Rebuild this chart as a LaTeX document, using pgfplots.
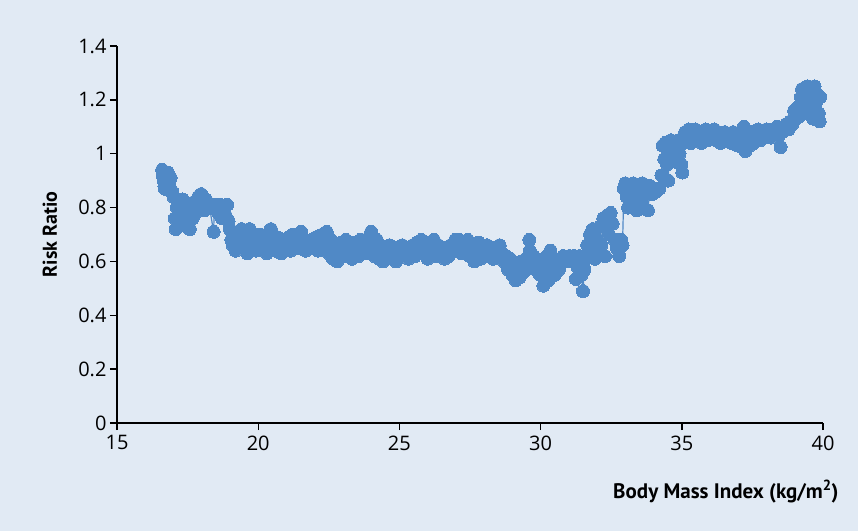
\documentclass[border=0pt]{standalone}
\usepackage{pgfplots}
\pgfplotsset{compat=1.18}
\usepackage{fontspec}
\setmainfont{PT Sans}
\newfontfamily\tickff{Open Sans}
\definecolor{bgc}{RGB}{225,234,244}
\definecolor{dotc}{RGB}{80,137,198}
\newcommand{\tickfont}{\tickff\fontsize{20}{24}\selectfont}
\pgfplotstableread{
x y
16.60 0.94
16.62 0.92
16.65 0.90
16.68 0.88
16.70 0.87
16.75 0.91
16.80 0.93
16.85 0.89
16.90 0.91
16.95 0.86
17.00 0.84
17.05 0.76
17.08 0.72
17.12 0.80
17.18 0.74
17.22 0.82
17.28 0.78
17.32 0.83
17.38 0.75
17.42 0.79
17.48 0.73
17.52 0.77
17.58 0.72
17.62 0.80
17.68 0.76
17.72 0.82
17.78 0.78
17.82 0.81
17.88 0.84
17.92 0.80
17.98 0.85
18.05 0.82
18.10 0.79
18.15 0.83
18.20 0.81
18.28 0.80
18.42 0.71
18.45 0.80
18.52 0.81
18.58 0.78
18.65 0.81
18.72 0.76
18.78 0.80
18.85 0.77
18.90 0.81
18.95 0.75
19.00 0.72
19.05 0.68
19.10 0.66
19.15 0.70
19.20 0.64
19.28 0.68
19.35 0.66
19.42 0.72
19.50 0.65
19.55 0.69
19.62 0.63
19.70 0.72
19.78 0.66
19.85 0.68
19.92 0.64
20.00 0.67
20.08 0.70
20.15 0.65
20.22 0.68
20.30 0.63
20.38 0.66
20.45 0.72
20.52 0.67
20.60 0.64
20.68 0.69
20.75 0.66
20.82 0.63
20.90 0.67
21.00 0.65
21.08 0.69
21.15 0.64
21.22 0.70
21.30 0.67
21.38 0.65
21.45 0.69
21.52 0.71
21.60 0.66
21.68 0.64
21.75 0.67
21.82 0.65
21.90 0.68
21.98 0.66
22.05 0.69
22.12 0.64
22.20 0.67
22.28 0.70
22.35 0.66
22.42 0.71
22.50 0.63
22.58 0.68
22.65 0.61
22.72 0.66
22.80 0.60
22.88 0.64
22.95 0.67
23.02 0.62
23.10 0.68
23.18 0.64
23.25 0.66
23.32 0.61
23.40 0.67
23.48 0.65
23.55 0.62
23.62 0.68
23.70 0.64
23.78 0.66
23.85 0.63
23.92 0.69
24.00 0.71
24.05 0.66
24.12 0.62
24.20 0.68
24.28 0.61
24.35 0.65
24.42 0.60
24.50 0.64
24.58 0.62
24.65 0.66
24.72 0.61
24.80 0.63
24.88 0.60
24.95 0.65
25.02 0.62
25.10 0.66
25.18 0.63
25.25 0.65
25.32 0.61
25.40 0.64
25.48 0.66
25.55 0.62
25.62 0.67
25.70 0.65
25.78 0.68
25.85 0.63
25.92 0.66
26.00 0.61
26.08 0.67
26.15 0.64
26.22 0.68
26.30 0.62
26.38 0.66
26.45 0.63
26.52 0.65
26.60 0.61
26.68 0.64
26.75 0.62
26.82 0.66
26.90 0.64
26.98 0.68
27.05 0.65
27.12 0.68
27.20 0.63
27.28 0.67
27.35 0.64
27.42 0.68
27.50 0.62
27.58 0.66
27.65 0.60
27.72 0.64
27.80 0.67
27.88 0.61
27.95 0.65
28.02 0.62
28.10 0.66
28.18 0.63
28.25 0.65
28.32 0.61
28.40 0.64
28.48 0.62
28.55 0.66
28.62 0.63
28.70 0.60
28.78 0.62
28.85 0.57
28.92 0.61
29.00 0.55
29.05 0.59
29.12 0.53
29.18 0.57
29.25 0.54
29.32 0.60
29.40 0.56
29.48 0.61
29.55 0.58
29.60 0.68
29.62 0.64
29.68 0.59
29.75 0.62
29.82 0.57
29.90 0.60
29.98 0.55
30.05 0.58
30.10 0.51
30.15 0.56
30.22 0.62
30.28 0.53
30.35 0.64
30.42 0.58
30.50 0.55
30.58 0.60
30.65 0.57
30.72 0.61
30.80 0.62
30.88 0.60
30.95 0.61
31.02 0.62
31.10 0.60
31.18 0.62
31.25 0.535
31.30 0.58
31.38 0.62
31.45 0.55
31.50 0.49
31.55 0.57
31.60 0.61
31.65 0.66
31.70 0.62
31.75 0.70
31.80 0.64
31.85 0.72
31.92 0.61
31.98 0.68
32.05 0.63
32.10 0.73
32.15 0.66
32.22 0.76
32.28 0.62
32.35 0.77
32.42 0.70
32.48 0.78
32.55 0.74
32.62 0.68
32.70 0.65
32.78 0.62
32.85 0.68
32.90 0.66
32.95 0.87
33.00 0.89
33.05 0.84
33.10 0.80
33.15 0.87
33.20 0.82
33.28 0.89
33.35 0.85
33.40 0.79
33.48 0.88
33.55 0.83
33.60 0.89
33.65 0.80
33.72 0.86
33.80 0.79
33.88 0.88
33.95 0.85
34.02 0.87
34.10 0.86
34.20 0.87
34.28 0.92
34.32 1.03
34.38 0.98
34.42 1.04
34.48 0.96
34.52 0.90
34.56 1.01
34.62 1.05
34.68 0.99
34.72 1.03
34.78 0.97
34.82 1.02
34.88 1.05
34.92 1.00
34.98 0.96
35.02 0.93
35.06 1.04
35.12 1.08
35.18 1.05
35.25 1.09
35.32 1.04
35.40 1.07
35.48 1.09
35.55 1.05
35.62 1.08
35.70 1.04
35.78 1.07
35.85 1.09
35.92 1.05
36.00 1.08
36.08 1.06
36.15 1.09
36.22 1.05
36.30 1.07
36.38 1.04
36.45 1.06
36.52 1.08
36.60 1.05
36.68 1.07
36.75 1.04
36.82 1.08
36.90 1.06
36.98 1.03
37.05 1.07
37.12 1.05
37.20 1.10
37.25 1.01
37.32 1.06
37.40 1.03
37.48 1.08
37.55 1.04
37.62 1.07
37.70 1.09
37.78 1.05
37.85 1.08
37.92 1.06
38.00 1.09
38.08 1.07
38.15 1.06
38.22 1.09
38.30 1.08
38.38 1.10
38.45 1.07
38.50 1.025
38.55 1.08
38.62 1.09
38.70 1.11
38.78 1.09
38.85 1.12
38.92 1.11
38.98 1.16
39.02 1.13
39.08 1.17
39.12 1.15
39.18 1.14
39.22 1.21
39.26 1.24
39.30 1.18
39.35 1.22
39.40 1.15
39.45 1.25
39.50 1.20
39.55 1.17
39.60 1.23
39.65 1.13
39.70 1.25
39.75 1.19
39.80 1.22
39.85 1.15
39.88 1.12
39.90 1.21
}\bmidata
\begin{document}
\begin{tikzpicture}
\fill[bgc] (0,0) rectangle (858pt,531pt);
\begin{axis}[
  at={(117pt,108pt)}, anchor=south west,
  scale only axis, width=706pt, height=377pt,
  xmin=15, xmax=40, ymin=0, ymax=1.4,
  axis x line=bottom, axis y line=left,
  axis line style={-, black, line width=1.4pt},
  xtick={15,20,25,30,35,40},
  xticklabels={15,20,25,30,35,40},
  ytick={0,0.2,0.4,0.6,0.8,1,1.2,1.4},
  yticklabels={0,0.2,0.4,0.6,0.8,1,1.2,1.4},
  tick align=outside,
  major tick length=7pt,
  tick style={black, line width=1.4pt},
  xticklabel style={font=\tickfont, yshift=-2pt},
  yticklabel style={font=\tickfont},
  xlabel={\textbf{Body Mass Index (kg/m\textsuperscript{2})}},
  ylabel={\textbf{Risk Ratio}},
  xlabel style={at={(axis description cs:1.027,-0.199)}, anchor=base east, font=\fontsize{21}{24}\selectfont},
  ylabel style={at={(axis description cs:-0.095,0.5)}, anchor=center, rotate=0, font=\fontsize{20}{24}\selectfont},
  clip=false,
]
\addplot[color=dotc, line width=1.2pt, mark=*, mark size=6.5pt,
  mark options={fill=dotc, draw=dotc, line width=0pt}] table {\bmidata};
\end{axis}
\end{tikzpicture}
\end{document}
